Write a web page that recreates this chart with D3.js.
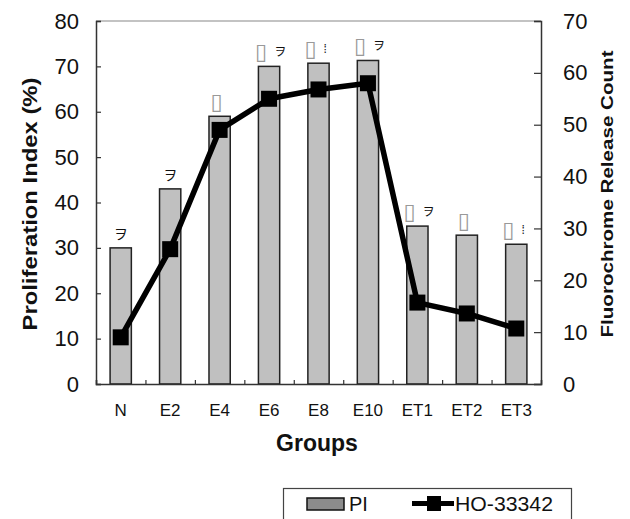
<!DOCTYPE html>
<html>
<head>
<meta charset="utf-8">
<script src="https://cdn.jsdelivr.net/npm/d3@7"></script>
<style>
  body { margin: 0; background: #fff; }
  svg { display: block; font-family: "Liberation Sans", Arial, sans-serif; }
</style>
</head>
<body>
<div id="chart"></div>
<script>
(function(){

  var groups = ["N", "E2", "E4", "E6", "E8", "E10", "ET1", "ET2", "ET3"];
  var piValues = [30, 43, 59, 70, 70.7, 71.3, 34.8, 32.8, 30.8];
  var hoValues = [9, 26, 49, 55, 56.8, 58, 15.7, 13.6, 10.7];
  var leftTicks = [0, 10, 20, 30, 40, 50, 60, 70, 80];
  var rightTicks = [0, 10, 20, 30, 40, 50, 60, 70];
  // garbled marker glyphs printed above the bars
  var annoBox = ["", "", "\u25AF", "\u25AF", "\u25AF", "\u25AF", "\u25AF", "\u25AF", "\u25AF"];
  var annoMark = ["\u30F2", "\u30F2", "", "\u30F2", "\u205E", "\u30F2", "\u30F2", "", "\u205E"];

  var width = 630, height = 519;
  var left = 96, right = 541, top = 21, bottom = 384;

  var svg = d3.select("#chart").append("svg")
    .attr("width", width)
    .attr("height", height);

  var x = d3.scaleBand()
    .domain(groups)
    .range([left, right])
    .paddingInner(0.57)
    .paddingOuter(0.285);

  var xSlots = d3.scaleLinear().domain([0, groups.length]).range([left, right]);

  var yLeft = d3.scaleLinear().domain([0, 80]).range([bottom, top]);
  var yRight = d3.scaleLinear().domain([0, 70]).range([bottom, top]);

  // top frame line
  svg.append("line")
    .attr("x1", left).attr("x2", right)
    .attr("y1", top).attr("y2", top)
    .attr("stroke", "#888").attr("stroke-width", 1.2);

  // bars
  svg.selectAll("rect.bar")
    .data(piValues)
    .enter()
    .append("rect")
    .attr("class", "bar")
    .attr("x", function(d, i){ return x(groups[i]); })
    .attr("y", function(d){ return yLeft(d); })
    .attr("width", x.bandwidth())
    .attr("height", function(d){ return yLeft(0) - yLeft(d); })
    .attr("fill", "#c0c0c0")
    .attr("stroke", "#222")
    .attr("stroke-width", 1.5);

  // annotations above bars: one text each, box glyph + mark
  var anno = svg.selectAll("text.anno")
    .data(piValues)
    .enter()
    .append("text")
    .attr("class", "anno")
    .attr("x", function(d, i){
      var c = x(groups[i]) + x.bandwidth() / 2;
      if (!annoBox[i]) return c - 7;
      return c - (annoMark[i] ? 14 : 9);
    })
    .attr("y", function(d, i){ return yLeft(d) - (annoBox[i] ? 7 : 9); })
    .attr("text-anchor", "start");

  anno.append("tspan")
    .attr("font-family", "DejaVu Sans, sans-serif")
    .attr("font-size", 22)
    .attr("fill", "#999")
    .text(function(d, i){ return annoBox[i]; });

  anno.append("tspan")
    .attr("font-family", "Noto Sans CJK JP, sans-serif")
    .attr("font-size", function(d, i){ return annoBox[i] ? 12 : 14; })
    .attr("fill", "#111")
    .attr("dx", function(d, i){ return annoBox[i] ? 7 : 0; })
    .attr("dy", function(d, i){ return annoBox[i] ? -3 : 0; })
    .text(function(d, i){ return annoMark[i]; });

  // axes
  var axisLeft = d3.axisLeft(yLeft).tickValues(leftTicks).tickSize(-5).tickPadding(17);
  var gl = svg.append("g").attr("transform", "translate(" + left + ",0)").call(axisLeft);

  var axisRight = d3.axisRight(yRight).tickValues(rightTicks).tickSize(-7).tickPadding(22);
  var gr = svg.append("g").attr("transform", "translate(" + right + ",0)").call(axisRight);

  var axisBottom = d3.axisBottom(xSlots).ticks(groups.length).tickSize(-4).tickFormat("");
  var gb = svg.append("g").attr("transform", "translate(0," + bottom + ")").call(axisBottom);

  [gl, gr, gb].forEach(function(g){
    g.select(".domain").attr("stroke", "#333").attr("stroke-width", 1.5);
    g.selectAll(".tick line").attr("stroke", "#333").attr("stroke-width", 1.2);
    g.selectAll("text")
      .attr("font-family", "Liberation Sans, Arial, sans-serif")
      .attr("font-size", 22)
      .attr("fill", "#111");
  });

  // group labels
  svg.selectAll("text.xlab")
    .data(groups)
    .enter()
    .append("text")
    .attr("class", "xlab")
    .attr("x", function(d){ return x(d) + x.bandwidth() / 2; })
    .attr("y", 416)
    .attr("text-anchor", "middle")
    .attr("font-size", 17)
    .attr("fill", "#111")
    .text(function(d){ return d; });

  // HO-33342 line
  var line = d3.line()
    .x(function(d, i){ return x(groups[i]) + x.bandwidth() / 2; })
    .y(function(d){ return yRight(d); });

  svg.append("path")
    .datum(hoValues)
    .attr("d", line)
    .attr("fill", "none")
    .attr("stroke", "#000")
    .attr("stroke-width", 5.5)
    .attr("stroke-linejoin", "round");

  svg.selectAll("rect.mark")
    .data(hoValues)
    .enter()
    .append("rect")
    .attr("class", "mark")
    .attr("x", function(d, i){ return x(groups[i]) + x.bandwidth() / 2 - 8; })
    .attr("y", function(d){ return yRight(d) - 8; })
    .attr("width", 16)
    .attr("height", 16)
    .attr("fill", "#000");

  // axis titles
  svg.append("text")
    .attr("transform", "translate(29,204) rotate(-90)")
    .attr("text-anchor", "middle")
    .attr("dominant-baseline", "central")
    .attr("font-weight", "bold")
    .attr("font-size", 21)
    .attr("textLength", 253)
    .attr("lengthAdjust", "spacingAndGlyphs")
    .attr("fill", "#111")
    .text("Proliferation Index (%)");

  svg.append("text")
    .attr("transform", "translate(607,194) rotate(-90)")
    .attr("text-anchor", "middle")
    .attr("dominant-baseline", "central")
    .attr("font-weight", "bold")
    .attr("font-size", 17)
    .attr("textLength", 287)
    .attr("lengthAdjust", "spacingAndGlyphs")
    .attr("fill", "#111")
    .text("Fluorochrome Release Count");

  svg.append("text")
    .attr("x", 317)
    .attr("y", 451)
    .attr("text-anchor", "middle")
    .attr("font-weight", "bold")
    .attr("font-size", 23)
    .attr("fill", "#111")
    .text("Groups");

  // legend
  var legend = svg.append("g");
  legend.append("rect")
    .attr("x", 283.5).attr("y", 488.5)
    .attr("width", 288).attr("height", 40)
    .attr("fill", "#fff")
    .attr("stroke", "#444").attr("stroke-width", 1.2);

  legend.append("rect")
    .attr("x", 307).attr("y", 498)
    .attr("width", 37).attr("height", 12)
    .attr("fill", "#8c8c8c")
    .attr("stroke", "#111").attr("stroke-width", 1.5);

  legend.append("text")
    .attr("x", 349).attr("y", 511)
    .attr("font-size", 20)
    .attr("fill", "#111")
    .text("PI");

  legend.append("line")
    .attr("x1", 412).attr("x2", 454)
    .attr("y1", 503.5).attr("y2", 503.5)
    .attr("stroke", "#000").attr("stroke-width", 5);

  legend.append("rect")
    .attr("x", 427).attr("y", 496)
    .attr("width", 14).attr("height", 15)
    .attr("fill", "#000");

  legend.append("text")
    .attr("x", 455).attr("y", 511)
    .attr("font-size", 20)
    .attr("textLength", 98)
    .attr("lengthAdjust", "spacingAndGlyphs")
    .attr("fill", "#111")
    .text("HO-33342");

})();
</script>
</body>
</html>
